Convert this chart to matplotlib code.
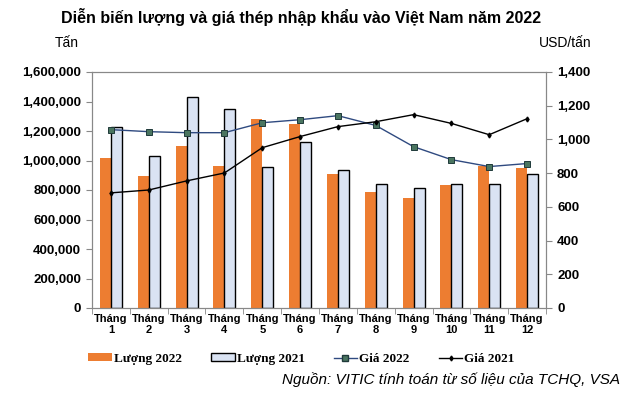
# Steel import volume and price chart, Vietnam 2022

from matplotlib import pyplot as plt
from matplotlib.patches import Patch
from matplotlib.lines import Line2D
from matplotlib.ticker import FuncFormatter
import numpy as np

months = ["Tháng\n%d" % i for i in range(1, 13)]
luong_2022 = [1017000, 895000, 1098000, 963000, 1280000, 1247000,
              908000, 786000, 747000, 834000, 963000, 949000]
luong_2021 = [1225000, 1028000, 1428000, 1347000, 954000, 1123000,
              936000, 841000, 814000, 841000, 841000, 908000]
gia_2022 = [1058, 1046, 1040, 1040, 1099, 1117, 1141, 1083, 957, 880, 839, 857]
gia_2021 = [683, 700, 754, 801, 951, 1017, 1076, 1105, 1147, 1095, 1028, 1123]

plt.rcParams['font.family'] = ['Liberation Sans', 'DejaVu Sans']

fig = plt.figure(figsize=(6.28, 3.96), dpi=100)
ax = fig.add_axes([92 / 628, 1 - 308 / 396, 454 / 628, 236 / 396])
ax2 = ax.twinx()

x = np.arange(len(months))
w = 0.29
ax.bar(x - w / 2, luong_2022, w, color="#ED7D31", linewidth=0)
ax.bar(x + w / 2, luong_2021, w, color="#DAE3F3", edgecolor="black", linewidth=1)

ax2.plot(x, gia_2022, color="#2F4A80", lw=1.0, marker="s", markersize=4.5,
         markerfacecolor="#4A7560", markeredgecolor="#1F3A3A", markeredgewidth=0.7)
ax2.plot(x, gia_2021, color="black", lw=1.0, marker="d", markersize=2.5)

ax.set_xlim(-0.5, 11.5)
ax.set_ylim(0, 1600000)
ax.set_yticks(range(0, 1600001, 200000))
ax.yaxis.set_major_formatter(FuncFormatter(lambda v, p: f"{int(v):,}"))
ax2.set_ylim(0, 1400)
ax2.set_yticks(range(0, 1401, 200))
ax2.yaxis.set_major_formatter(FuncFormatter(lambda v, p: f"{int(v):,}"))

ax.set_xticks(x)
ax.set_xticklabels(months, fontsize=8, fontweight="bold", linespacing=1.2)
ax.set_xticks(np.arange(-0.5, 12, 1), minor=True)
ax.tick_params(axis="x", which="major", length=0, pad=4)
ax.tick_params(axis="x", which="minor", length=4, color="#888888")

for a in (ax, ax2):
    for s in a.spines.values():
        s.set_color("#888888")
        s.set_linewidth(0.8)
ax.tick_params(axis="y", length=4, color="#888888", labelsize=9.5, pad=4)
ax2.tick_params(axis="y", length=4, color="#888888", labelsize=9.5, pad=4)
for lab in ax.get_yticklabels() + ax2.get_yticklabels():
    lab.set_fontweight("bold")

fig.text(301 / 628, 1 - 17 / 396, "Diễn biến lượng và giá thép nhập khẩu vào Việt Nam năm 2022",
         ha="center", va="center", fontsize=11.5, fontweight="bold")
fig.text(55 / 628, 1 - 43 / 396, "Tấn", ha="left", va="center", fontsize=10)
fig.text(592 / 628, 1 - 43 / 396, "USD/tấn", ha="right", va="center", fontsize=10)

handles = [
    Patch(facecolor="#ED7D31", edgecolor="none"),
    Patch(facecolor="#DAE3F3", edgecolor="black", linewidth=1),
    Line2D([], [], color="#2F4A80", lw=1.0, marker="s", markersize=4,
           markerfacecolor="#4A7560", markeredgecolor="#1F3A3A"),
    Line2D([], [], color="black", lw=1.0, marker="d", markersize=2.5),
]
labels = ["Lượng 2022", "Lượng 2021", "Giá 2022", "Giá 2021"]
fig.legend(handles, labels, loc="center", bbox_to_anchor=(0.48, 1 - 359 / 396),
           ncol=4, frameon=False, handlelength=1.8, handleheight=0.55,
           handletextpad=0.15, columnspacing=2.2,
           prop={"family": "Liberation Serif", "weight": "bold", "size": 9.5})

fig.text(620 / 628, 1 - 380 / 396, "Nguồn: VITIC tính toán từ số liệu của TCHQ, VSA",
         ha="right", va="center", fontsize=11, style="italic")

fig.savefig("out.png", dpi=100)
